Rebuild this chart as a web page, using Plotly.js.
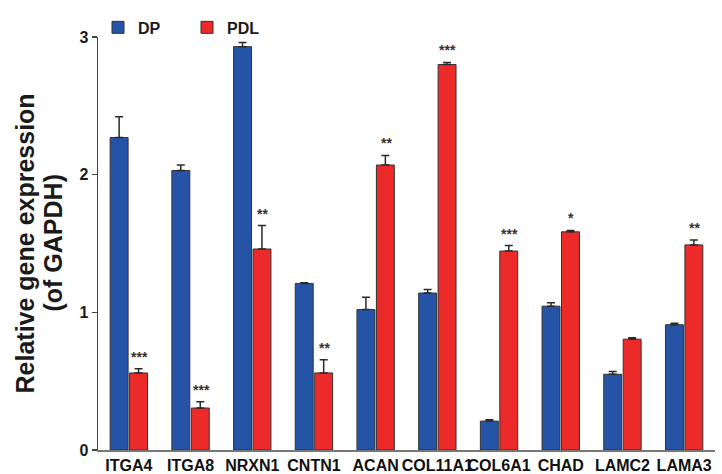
<!DOCTYPE html>
<html>
<head>
<meta charset="utf-8">
<script src="https://cdn.plot.ly/plotly-3.0.1.min.js"></script>
<style>html,body{margin:0;padding:0;background:#fff;}#chart{width:722px;height:474px;}</style>
</head>
<body>
<div id="chart"></div>
<script>
const genes = ["ITGA4","ITGA8","NRXN1","CNTN1","ACAN","COL11A1","COL6A1","CHAD","LAMC2","LAMA3"];
const dpValues  = [2.27, 2.03, 2.93, 1.21, 1.02, 1.14, 0.21, 1.045, 0.55, 0.91];
const dpErrors  = [0.15, 0.04, 0.03, 0.005, 0.09, 0.025, 0.01, 0.025, 0.02, 0.01];
const pdlValues = [0.56, 0.305, 1.46, 0.56, 2.07, 2.80, 1.445, 1.585, 0.805, 1.49];
const pdlErrors = [0.03, 0.045, 0.17, 0.095, 0.07, 0.015, 0.04, 0.01, 0.01, 0.035];
const stars     = ["***","***","**","**","**","***","***","*","","**"];
const yTicks = [0, 1, 2, 3];

const zeros = genes.map(() => 0);
const FONT = "Liberation Sans, Arial, Helvetica, sans-serif";

const traces = [
  {
    type: "bar", name: "DP", x: genes, y: dpValues,
    marker: {color: "#2553a5", line: {color: "#333333", width: 1}},
    error_y: {type: "data", symmetric: false, array: dpErrors, arrayminus: zeros,
              color: "#2a2a2a", thickness: 1.5, width: 4}
  },
  {
    type: "bar", name: "PDL", x: genes, y: pdlValues,
    marker: {color: "#ec2a2a", line: {color: "#333333", width: 1}},
    error_y: {type: "data", symmetric: false, array: pdlErrors, arrayminus: zeros,
              color: "#2a2a2a", thickness: 1.5, width: 4}
  }
];

const annotations = [];
genes.forEach((g, i) => {
  if (!stars[i]) return;
  annotations.push({
    x: g, y: pdlValues[i] + pdlErrors[i], xref: "x", yref: "y",
    text: "<b>" + stars[i] + "</b>", showarrow: false,
    xshift: 10.5, yshift: 2, yanchor: "bottom",
    font: {family: FONT, size: 14, color: "#3a3030"}
  });
});
annotations.push({
  xref: "paper", yref: "paper", x: 0, y: 0.5, xshift: -74, xanchor: "center", yanchor: "middle",
  text: "<b>Relative gene expression</b>", textangle: -90, showarrow: false,
  font: {family: FONT, size: 25, color: "#1a1a1a"}
});
annotations.push({
  xref: "paper", yref: "paper", x: 0, y: 0.5, xshift: -46, xanchor: "center", yanchor: "middle",
  text: "<b>(of GAPDH)</b>", textangle: -90, showarrow: false,
  font: {family: FONT, size: 25, color: "#1a1a1a"}
});

const layout = {
  width: 722, height: 474,
  margin: {l: 98, r: 7, t: 37, b: 24},
  paper_bgcolor: "#ffffff", plot_bgcolor: "#ffffff",
  barmode: "group", bargap: 0.37, bargroupgap: 0.077,
  showlegend: true,
  legend: {orientation: "h", x: 0, xanchor: "left", y: 0.982, yanchor: "bottom",
           font: {family: FONT, size: 16, color: "#1a1a1a", weight: "bold"},
           entrywidth: 44, bgcolor: "rgba(0,0,0,0)", traceorder: "normal"},
  xaxis: {
    showgrid: false, zeroline: false, showline: true, linecolor: "#777777", linewidth: 2,
    ticks: "", tickangle: 0, automargin: false,
    tickfont: {family: FONT, size: 16, color: "#111111", weight: "bold"},
    range: [-0.5, 9.5], fixedrange: true
  },
  yaxis: {
    range: [0, 3], tickvals: yTicks, ticktext: yTicks.map(String),
    showgrid: false, zeroline: false, showline: true, linecolor: "#444444", linewidth: 1.5,
    ticks: "outside", ticklen: 5, tickwidth: 1.5, tickcolor: "#444444",
    tickfont: {family: FONT, size: 16, color: "#1a1a1a", weight: "bold"},
    fixedrange: true
  },
  annotations: annotations,
  font: {family: FONT}
};

Plotly.newPlot("chart", traces, layout, {displayModeBar: false, staticPlot: true});
</script>
</body>
</html>
